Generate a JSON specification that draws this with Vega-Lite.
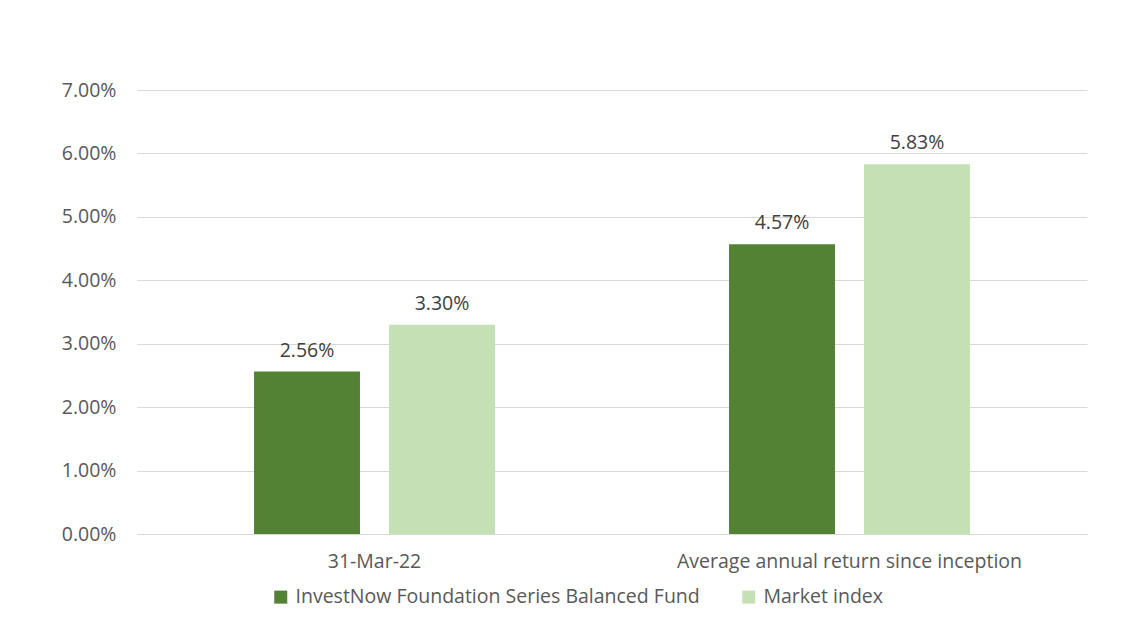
{
  "$schema": "https://vega.github.io/schema/vega-lite/v6.json",
  "autosize": {"type": "none"},
  "width": 950,
  "height": 444,
  "padding": {"left": 137, "top": 90, "right": 40, "bottom": 92},
  "background": "#ffffff",
  "config": {
    "view": {"stroke": null},
    "font": "Open Sans",
    "axis": {"labelFont": "Open Sans", "labelColor": "#595959", "labelFontSize": 19.5}
  },
  "data": {
    "values": [
      {"period": "31-Mar-22", "series": "InvestNow Foundation Series Balanced Fund", "value": 0.0256},
      {"period": "31-Mar-22", "series": "Market index", "value": 0.033},
      {"period": "Average annual return since inception", "series": "InvestNow Foundation Series Balanced Fund", "value": 0.0457},
      {"period": "Average annual return since inception", "series": "Market index", "value": 0.0583}
    ]
  },
  "encoding": {
    "x": {
      "field": "period", "type": "nominal", "title": null,
      "sort": ["31-Mar-22", "Average annual return since inception"],
      "scale": {"paddingInner": 0, "paddingOuter": 0},
      "axis": {"labelAngle": 0, "tickSize": 0, "labelPadding": 18, "labelLimit": 600, "domainColor": "#d9d9d9", "domainWidth": 1}
    },
    "xOffset": {
      "field": "series", "type": "nominal",
      "sort": ["InvestNow Foundation Series Balanced Fund", "Market index"],
      "scale": {"paddingInner": 0.215, "paddingOuter": 0.867}
    }
  },
  "layer": [
    {
      "mark": {"type": "bar"},
      "encoding": {
        "y": {
          "field": "value", "type": "quantitative", "title": null,
          "scale": {"domain": [0, 0.07], "nice": false},
          "axis": {"format": ".2%", "values": [0, 0.01, 0.02, 0.03, 0.04, 0.05, 0.06, 0.07], "domain": false, "ticks": false, "labelPadding": 21, "gridColor": "#d9d9d9", "gridWidth": 1}
        },
        "color": {
          "field": "series", "type": "nominal", "title": null,
          "sort": ["InvestNow Foundation Series Balanced Fund", "Market index"],
          "scale": {"range": ["#548235", "#c5e0b4"]},
          "legend": {
            "orient": "none", "direction": "horizontal",
            "legendX": 134, "legendY": 497,
            "symbolType": "square", "symbolSize": 169, "symbolStrokeWidth": 0,
            "labelFont": "Open Sans", "labelFontSize": 19.5, "labelColor": "#595959",
            "labelOffset": 5, "columnPadding": 39, "labelLimit": 600
          }
        }
      }
    },
    {
      "mark": {"type": "text", "baseline": "bottom", "dy": -11, "fontSize": 19.5, "color": "#404040", "font": "Open Sans"},
      "encoding": {
        "y": {"field": "value", "type": "quantitative"},
        "text": {"field": "value", "type": "quantitative", "format": ".2%"}
      }
    }
  ]
}
